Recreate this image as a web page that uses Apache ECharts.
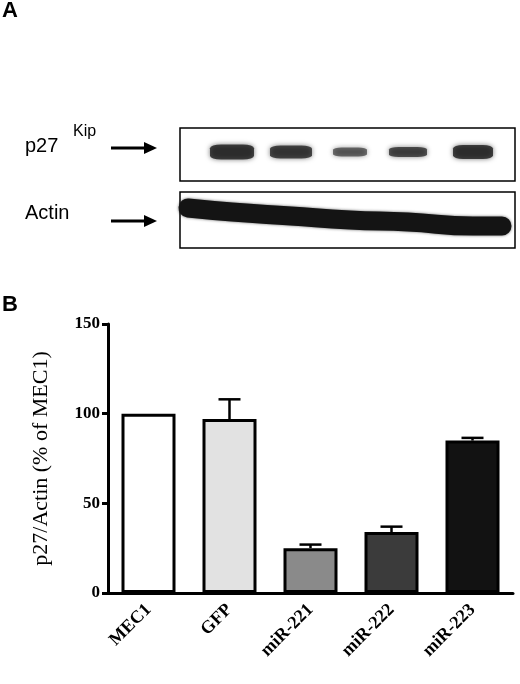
<!DOCTYPE html>
<html><head><meta charset="utf-8">
<script src="https://cdn.jsdelivr.net/npm/echarts@6/dist/echarts.min.js"></script>
<style>html,body{margin:0;padding:0;background:#fff}#chart{width:520px;height:684px}</style>
</head><body><div id="chart"></div>
<script>
var chart = echarts.init(document.getElementById('chart'));

// panel B data
var groups = ['MEC1', 'GFP', 'miR-221', 'miR-222', 'miR-223'];
var means = [100, 97, 25, 34, 85];
var errTop = [100, 108, 27, 37, 86.5];
var barColors = ['#ffffff', '#e2e2e2', '#8a8a8a', '#3b3b3b', '#121212'];
var yTicks = [0, 50, 100, 150];

// panel A (blot) data
var lanes = ['Mec1', 'GFP', 'miR-221', 'miR-222', 'miR-223'];
var laneX = [52, 111, 170, 228, 293];
var p27Width = [44, 42, 34, 38, 40];
var p27Height = [15, 13, 9, 10, 14];
var p27Dark = [0.95, 0.9, 0.7, 0.85, 0.95];
var actinX = [8, 52, 111, 170, 228, 293, 322];
var actinY = [80, 84, 88, 92, 94, 98, 98];

var serif = 'Liberation Serif, Times New Roman, serif';
var sans = 'Liberation Sans, Arial, sans-serif';

var option = {
  animation: false,
  graphic: [
    {type: 'text', left: 2, top: 0, style: {text: 'A', font: 'bold 22px ' + sans, fill: '#000'}},
    {type: 'text', left: 2, top: 294, style: {text: 'B', font: 'bold 22px ' + sans, fill: '#000'}},
    {type: 'text', left: 25, top: 136, style: {text: 'p27', font: '20px ' + sans, fill: '#000'}},
    {type: 'text', left: 73, top: 124, style: {text: 'Kip', font: '16px ' + sans, fill: '#000'}},
    {type: 'text', left: 25, top: 203, style: {text: 'Actin', font: '20px ' + sans, fill: '#000'}},
    {type: 'line', shape: {x1: 111, y1: 148, x2: 150, y2: 148}, style: {stroke: '#000', lineWidth: 3}},
    {type: 'polygon', shape: {points: [[144, 142], [157, 148], [144, 154]]}, style: {fill: '#000'}},
    {type: 'line', shape: {x1: 111, y1: 221, x2: 150, y2: 221}, style: {stroke: '#000', lineWidth: 3}},
    {type: 'polygon', shape: {points: [[144, 215], [157, 221], [144, 227]]}, style: {fill: '#000'}},
    {type: 'rect', shape: {x: 180, y: 128, width: 335, height: 53}, style: {fill: 'none', stroke: '#000', lineWidth: 1.5}},
    {type: 'rect', shape: {x: 180, y: 192, width: 335, height: 56}, style: {fill: 'none', stroke: '#000', lineWidth: 1.5}}
  ],
  grid: [
    {left: 108, top: 324, width: 405, height: 269},
    {left: 180, top: 128, width: 335, height: 120}
  ],
  xAxis: [
    {
      type: 'category', gridIndex: 0, data: groups,
      axisLine: {lineStyle: {color: '#000', width: 3}},
      axisTick: {alignWithLabel: true, length: 7, lineStyle: {width: 3, color: '#000'}},
      axisLabel: {rotate: 45, color: '#000', fontFamily: serif, fontWeight: 'bold', fontSize: 18, margin: 14}
    },
    {type: 'value', gridIndex: 1, min: 0, max: 335, show: false}
  ],
  yAxis: [
    {
      type: 'value', gridIndex: 0, min: 0, max: 150, interval: 50,
      name: 'p27/Actin (% of MEC1)', nameLocation: 'middle', nameGap: 56,
      nameTextStyle: {fontFamily: serif, fontSize: 22, color: '#000'},
      axisLine: {show: true, lineStyle: {color: '#000', width: 3}},
      axisTick: {show: true, length: 6, lineStyle: {width: 3, color: '#000'}},
      axisLabel: {color: '#000', fontFamily: serif, fontWeight: 'bold', fontSize: 17, margin: 8},
      splitLine: {show: false}
    },
    {type: 'value', gridIndex: 1, min: 0, max: 120, inverse: true, show: false}
  ],
  series: [
    {
      type: 'bar', xAxisIndex: 0, yAxisIndex: 0, barWidth: 54,
      data: means.map(function (v, i) {
        return {value: v, itemStyle: {color: barColors[i], borderColor: '#000', borderWidth: 3}};
      }),
      z: 3
    },
    {
      type: 'custom', xAxisIndex: 0, yAxisIndex: 0, z: 2,
      data: groups.map(function (g, i) { return [i, means[i], errTop[i]]; }),
      renderItem: function (params, api) {
        if (api.value(2) <= api.value(1)) return null;
        var b = api.coord([api.value(0), api.value(1)]);
        var t = api.coord([api.value(0), api.value(2)]);
        return {type: 'group', children: [
          {type: 'line', shape: {x1: b[0], y1: b[1], x2: t[0], y2: t[1]}, style: {stroke: '#000', lineWidth: 2.5}},
          {type: 'line', shape: {x1: t[0] - 11, y1: t[1], x2: t[0] + 11, y2: t[1]}, style: {stroke: '#000', lineWidth: 2.5}}
        ]};
      }
    },
    {
      type: 'line', xAxisIndex: 1, yAxisIndex: 1, showSymbol: false, smooth: true,
      data: actinX.map(function (x, i) { return [x, actinY[i]]; }),
      lineStyle: {color: '#141414', width: 19, cap: 'round', shadowBlur: 3, shadowColor: 'rgba(0,0,0,0.6)'}
    },
    {
      type: 'scatter', xAxisIndex: 1, yAxisIndex: 1, symbol: 'roundRect',
      data: lanes.map(function (l, i) {
        return {name: l, value: [laneX[i], 24], symbolSize: [p27Width[i], p27Height[i]],
          itemStyle: {color: 'rgba(20,20,20,' + p27Dark[i] + ')', shadowBlur: 5, shadowColor: 'rgba(0,0,0,0.7)'}};
      })
    },
    {
      type: 'scatter', xAxisIndex: 1, yAxisIndex: 1, symbolSize: 2, silent: true,
      itemStyle: {color: 'rgba(0,0,0,0)'},
      data: lanes.map(function (l, i) { return {name: l, value: [laneX[i], -14]}; }),
      label: {show: true, formatter: '{b}', rotate: 90, position: 'inside', align: 'left', verticalAlign: 'middle',
        color: '#000', fontFamily: sans, fontSize: 19}
    }
  ]
};
chart.setOption(option);
</script></body></html>
